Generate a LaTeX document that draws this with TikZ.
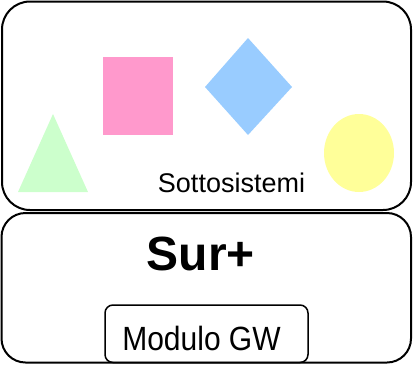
\documentclass[tikz,border=0pt]{standalone}
\usepackage{fontspec}
\setmainfont{Liberation Sans}
\begin{document}
\begin{tikzpicture}[x=1pt,y=-1pt,
  outer/.style={draw=black,line width=2pt,rounded corners=28pt},
  inner/.style={draw=black,line width=1.5pt,rounded corners=8pt}]
\useasboundingbox (0,0) rectangle (414,364);
% top box
\draw[outer] (2,1.5) rectangle (411,210);
% bottom box
\draw[outer,rounded corners=24pt] (1.5,213) rectangle (411,362.5);
% module box
\draw[inner] (105,305) rectangle (308,362.5);
% shapes
\fill[green!20!white,fill={rgb,255:red,204;green,255;blue,204}] (53,114) -- (88,192) -- (18,192) -- cycle;
\fill[fill={rgb,255:red,255;green,153;blue,204}] (103,57) rectangle (173,135);
\fill[fill={rgb,255:red,153;green,204;blue,255}] (248,38) -- (292,87) -- (248,135) -- (205,87) -- cycle;
\fill[fill={rgb,255:red,255;green,255;blue,153}] (359,153) ellipse [x radius=35, y radius=39];
% texts
\node[anchor=base,font=\fontsize{27}{30}\selectfont,inner sep=0] (sotto) at (231.5,192) {Sottosistemi};
\node[anchor=base,font=\fontsize{48}{50}\bfseries\selectfont,inner sep=0] (sur) at (201,270.5) {Sur+};
\node[anchor=base,font=\fontsize{30}{32}\selectfont,inner sep=0,yscale=1.12] (mod) at (201.5,350.5) {Modulo GW};
\end{tikzpicture}
\end{document}
